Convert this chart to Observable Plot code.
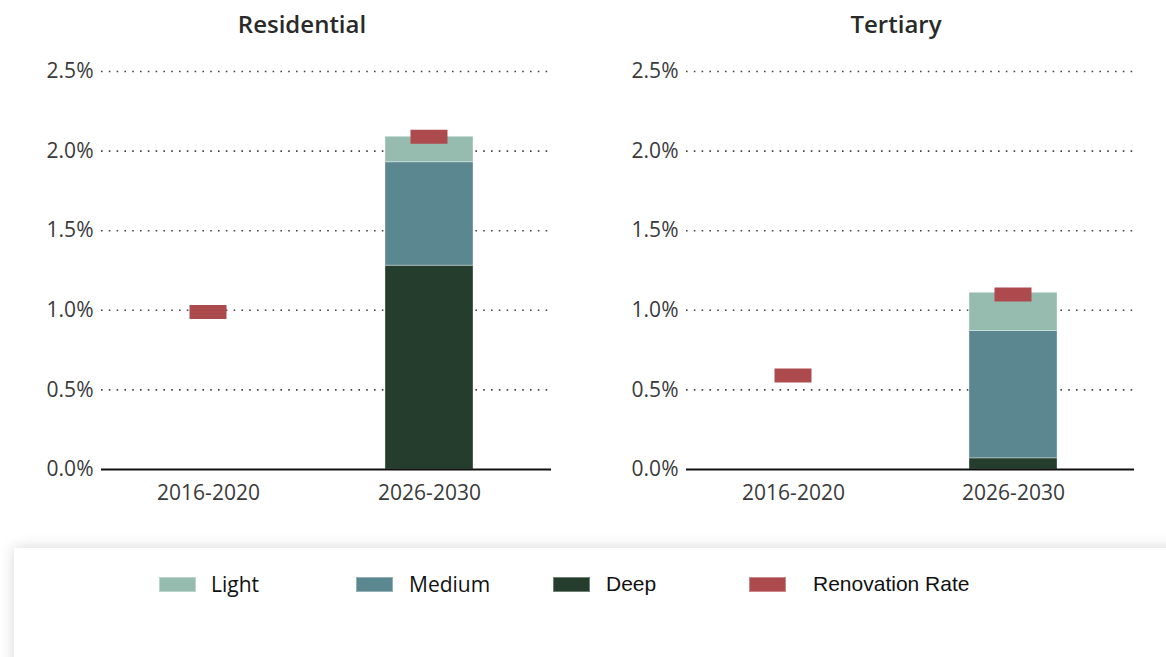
<!DOCTYPE html>
<html>
<head>
<meta charset="utf-8">
<script src="https://cdn.jsdelivr.net/npm/d3@7"></script>
<script src="https://cdn.jsdelivr.net/npm/@observablehq/plot@0.6"></script>
<style>
  html, body { margin: 0; padding: 0; background: #fff; }
  body { width: 1166px; height: 657px; position: relative; overflow: hidden; font-family: "Open Sans", sans-serif; }
  .panel { position: absolute; top: 0; width: 583px; height: 548px; }
  .title { position: absolute; top: 8px; transform: translateX(-50%); font-family: "Open Sans", sans-serif; font-weight: 600; font-size: 24px; color: #2a2a2a; white-space: nowrap; line-height: 32px; }
  .legend { position: absolute; left: 14px; top: 548px; width: 1180px; height: 140px; background: #fff; box-shadow: 0 0 14px rgba(0,0,0,0.16); }
  .sw { position: absolute; width: 37px; height: 15px; top: 29px; box-sizing: border-box; border: 1px solid rgba(255,255,255,0.35); }
  .lt { position: absolute; top: 22px; font-size: 21px; line-height: 28px; color: #111; white-space: nowrap; }
</style>
</head>
<body>
<div class="panel" id="p1"></div>
<div class="panel" id="p2" style="left:583px"></div>
<div class="title" style="left:302px">Residential</div>
<div class="title" style="left:896px">Tertiary</div>
<div class="legend" id="legend"></div>
<script>
// ---- data ----
const periods = ["2016-2020", "2026-2030"];
const types = ["Deep", "Medium", "Light"];
const typeColors = ["#243d2d", "#5b8790", "#96bcb0"];
const rateColor = "#ad4a4e";
const yTicks = [0, 0.5, 1.0, 1.5, 2.0, 2.5];

const resDeep = [0, 1.28];
const resMedium = [0, 0.65];
const resLight = [0, 0.16];
const resRate = [0.99, 2.09];

const terDeep = [0, 0.07];
const terMedium = [0, 0.80];
const terLight = [0, 0.24];
const terRate = [0.59, 1.10];

const legendLabels = ["Light", "Medium", "Deep", "Renovation Rate"];

function stackRows(deep, medium, light) {
  const rows = [];
  periods.forEach((p, i) => {
    rows.push({period: p, type: "Deep", value: deep[i]});
    rows.push({period: p, type: "Medium", value: medium[i]});
    rows.push({period: p, type: "Light", value: light[i]});
  });
  return rows;
}
function rateRows(rate) {
  return periods.map((p, i) => ({period: p, rate: rate[i]}));
}

function panel(deep, medium, light, rate, marginLeft) {
  return Plot.plot({
    width: 583,
    height: 548,
    marginTop: 71,
    marginBottom: 79,
    marginLeft: marginLeft,
    marginRight: 32,
    style: {fontFamily: "'Open Sans', sans-serif", fontSize: "21px", fontWeight: 400, color: "#3a3a3a", background: "transparent", overflow: "visible"},
    x: {domain: periods, paddingInner: 0.602, paddingOuter: 0.319, align: 0.447, label: null, tickSize: 0, tickPadding: 16},
    y: {domain: [0, 2.5], ticks: yTicks, tickFormat: d => d.toFixed(1) + "%", tickSize: 0, tickPadding: 8, label: null},
    color: {domain: types, range: typeColors},
    marks: [
      Plot.gridY(yTicks.filter(d => d > 0), {stroke: "#444", strokeOpacity: 1, strokeWidth: 1.6, strokeDasharray: "1.6,6.2"}),
      Plot.barY(stackRows(deep, medium, light), {x: "period", y: "value", fill: "type", stroke: "#ffffff", strokeOpacity: 0.35, strokeWidth: 1}),
      Plot.ruleY([0], {stroke: "#111", strokeWidth: 2}),
      Plot.tickY(rateRows(rate), {x: "period", y: "rate", stroke: rateColor, strokeWidth: 14, insetLeft: 25.5, insetRight: 25.5})
    ]
  });
}

document.getElementById("p1").append(panel(resDeep, resMedium, resLight, resRate, 101));
document.getElementById("p2").append(panel(terDeep, terMedium, terLight, terRate, 103));

// legend
const legend = document.getElementById("legend");
const swLeft = [145, 342, 539, 735];
const txLeft = [197, 395, 592, 799];
const swColors = [typeColors[2], typeColors[1], typeColors[0], rateColor];
const fonts = ["'Open Sans', sans-serif", "'Open Sans', sans-serif", "'Liberation Sans', Arial, sans-serif", "'Liberation Sans', Arial, sans-serif"];
legendLabels.forEach((lab, i) => {
  const s = document.createElement("div");
  s.className = "sw";
  s.style.left = swLeft[i] + "px";
  s.style.background = swColors[i];
  legend.append(s);
  const t = document.createElement("div");
  t.className = "lt";
  t.style.left = txLeft[i] + "px";
  t.style.fontFamily = fonts[i];
  t.textContent = lab;
  legend.append(t);
});
</script>
</body>
</html>
